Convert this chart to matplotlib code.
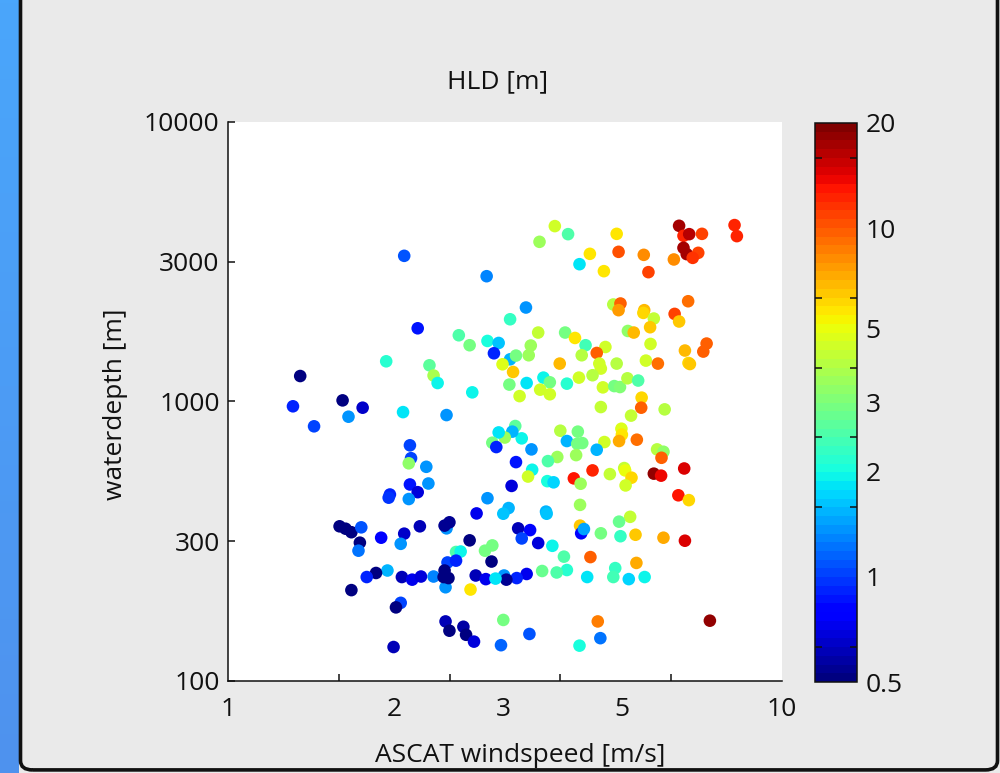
import numpy as np
import matplotlib
matplotlib.use("Agg")
import matplotlib.pyplot as plt
from matplotlib.colors import LogNorm, LinearSegmentedColormap
from matplotlib.ticker import FixedLocator, NullFormatter, FixedFormatter
from matplotlib.patches import FancyBboxPatch

plt.rcParams['font.family'] = ['Open Sans', 'DejaVu Sans']

# ---------------- data ----------------
windspeed = [2.08, 2.93, 2.20, 3.23, 2.61, 2.73, 2.94, 3.08, 3.02, 3.23, 3.13, 3.27, 1.93, 2.31, 2.35, 2.39, 2.76,
             1.35, 1.61, 3.22, 3.89, 3.65, 4.11, 5.03, 4.50, 4.31, 4.77, 5.07, 5.63, 5.74, 6.38, 6.52, 6.64, 6.80,
             7.17, 6.64, 6.73, 7.06, 6.90, 8.21, 8.29, 3.45, 4.96, 5.11, 5.07, 5.64, 5.62, 5.87, 5.78, 5.27, 5.40,
             6.40, 6.52, 6.77, 3.63, 4.06, 4.23, 4.42, 3.52, 3.49, 3.31, 4.80, 4.63, 4.35, 4.68, 4.71, 3.97, 5.03,
             5.79, 5.68, 5.97, 6.68, 6.78, 6.82, 7.31, 7.21, 3.71, 3.81, 3.46, 4.09, 4.30, 4.55, 3.66, 3.81, 3.36,
             4.75, 4.98, 5.10, 5.26, 5.50, 5.58, 5.57, 4.71, 5.34, 6.14, 3.98, 4.28, 5.13, 5.14, 5.08, 5.47, 4.78,
             4.09, 4.27, 4.36, 4.25, 4.63, 3.93, 3.78, 3.53, 3.39, 3.30, 3.26, 3.16, 3.31, 3.54, 3.48, 3.25, 3.77,
             3.87, 4.21, 4.33, 4.55, 4.89, 5.19, 5.21, 5.35, 5.22, 5.87, 6.05, 5.95, 6.11, 6.06, 6.66, 6.50, 6.79,
             6.68, 6.11, 5.44, 5.32, 5.08, 5.11, 4.71, 4.32, 4.32, 4.34, 4.39, 4.51, 4.04, 3.85, 4.09, 3.92, 3.69,
             4.45, 5.00, 4.96, 5.29, 5.65, 5.46, 3.75, 3.76, 3.21, 3.14, 3.34, 3.51, 3.39, 3.63, 3.46, 3.32, 3.15,
             3.18, 4.65, 7.41, 3.14, 3.50, 4.70, 4.31, 3.11, 1.31, 1.43, 1.65, 1.75, 2.07, 2.48, 2.13, 2.14, 2.12,
             2.28, 2.30, 2.13, 2.20, 1.96, 1.95, 2.12, 2.94, 2.81, 3.08, 3.00, 3.05, 1.59, 1.63, 1.67, 1.74, 1.73,
             1.72, 1.89, 2.08, 2.05, 2.22, 2.48, 2.46, 2.51, 2.73, 2.58, 2.63, 2.91, 3.00, 2.99, 2.49, 2.58, 1.94,
             1.85, 1.78, 2.06, 2.15, 2.23, 2.35, 2.47, 2.45, 2.46, 2.50, 2.80, 2.92, 3.04, 2.74, 1.67, 2.05, 2.01,
             2.47, 2.51, 2.66, 2.69, 2.78, 1.99]

waterdepth = [3318, 2805, 1826, 1967, 1724, 1588, 1645, 1618, 1486, 1414, 1357, 1274, 1391, 1346, 1237, 1163, 1077,
              1232, 1008, 1148, 4239, 3724, 3967, 3977, 3373, 3097, 2924, 3429, 3345, 2900, 3220, 4250, 3913, 3967,
              3977, 3544, 3365, 3401, 3263, 4275, 3903, 2167, 2222, 2240, 2120, 2120, 2073, 1979, 1842, 1786, 1763,
              2056, 1931, 2282, 1763, 1763, 1686, 1588, 1584, 1462, 1458, 1565, 1490, 1462, 1365, 1310, 1365, 1365,
              1605, 1399, 1365, 1520, 1372, 1360, 1610, 1507, 1216, 1170, 1163, 1157, 1216, 1240, 1101, 1060, 1044,
              1122, 1134, 1125, 1209, 1187, 1031, 949, 954, 889, 936, 785, 779, 798, 760, 721, 729, 715,
              721, 705, 709, 642, 671, 632, 611, 673, 737, 816, 779, 742, 606, 569, 538, 498, 518,
              513, 530, 507, 566, 549, 577, 566, 533, 500, 551, 542, 673, 660, 628, 575, 461, 443,
              317, 325, 333, 386, 371, 329, 337, 426, 359, 337, 349, 277, 278, 304, 249, 244, 247,
              235, 253, 235, 231, 235, 264, 403, 396, 415, 396, 351, 346, 323, 311, 241, 233, 238,
              230, 163, 164, 165, 147, 142, 133.5, 134, 960, 814, 881, 949, 915, 893, 696, 626, 600,
              583, 508, 504, 473, 464, 452, 447, 450, 397, 774, 711, 686, 357, 350, 340, 354, 312,
              292, 325, 336, 309, 357, 351, 359, 369, 318, 289, 290, 292, 305, 267, 265, 269, 248,
              243, 235, 235, 230, 236, 236, 216, 235, 248, 233, 238, 231, 232, 212, 211, 190, 183,
              163, 151, 156, 146, 138, 132]

hld = [1.1, 1.3, 0.85, 2.3, 2.6, 3.0, 2.0, 1.6, 0.9, 1.5, 4.8, 6.5, 2.2, 2.7, 3.9, 1.9, 1.9,
       0.5, 0.5, 3.0, 4.5, 3.6, 2.6, 5.8, 5.8, 1.8, 5.8, 10.5, 8, 11, 8, 17, 12.5, 16,
       11, 17.5, 17, 11, 11.5, 12, 12, 1.35, 4.0, 10, 7.7, 7, 6.2, 4.3, 6.5, 3.4, 6.8,
       11, 6.5, 9, 4.3, 3.0, 5.8, 2.4, 3.6, 3.6, 3.0, 4.6, 9.5, 4.0, 4.5, 4.5, 6.8, 4.0,
       4.6, 4.6, 9, 6.8, 6, 6.5, 10, 10, 1.9, 3.0, 1.8, 2.2, 4.5, 4.0, 4.6, 4.6, 4.5,
       4.5, 3.0, 3.3, 4.0, 2.6, 6, 10, 4.3, 4.3, 4.0, 4.0, 3.0, 5, 5.8, 7.3, 9, 4.6,
       1.5, 3.0, 3.0, 3.6, 1.5, 3.6, 2.6, 1.35, 1.9, 2.8, 1.5, 3.6, 0.85, 1.9, 4.6, 0.7, 2.0,
       1.7, 13, 3.6, 12.5, 4.3, 4.3, 5.3, 6.3, 4.6, 18.5, 13.5, 4.0, 3.4, 10, 14.5, 13, 6.2,
       14.5, 7.3, 6.5, 4.3, 2.9, 2.3, 3.0, 3.6, 6.5, 0.8, 1.45, 9.5, 2.6, 1.9, 2.2, 2.6, 2.9,
       1.8, 2.3, 2.4, 1.7, 1.9, 7.3, 1.5, 1.65, 1.5, 1.6, 0.6, 0.8, 1.0, 0.67, 0.72, 0.9, 1.35,
       0.56, 8.5, 18, 3.0, 1.1, 1.25, 2.0, 1.15, 0.9, 1.0, 1.35, 0.63, 1.8, 1.35, 1.0, 1.0, 3.5,
       1.35, 1.35, 0.85, 0.7, 0.9, 0.95, 1.35, 1.35, 0.72, 1.8, 3.0, 0.9, 0.5, 0.5, 0.5, 1.1, 0.52,
       1.25, 0.75, 0.63, 1.35, 0.6, 1.35, 0.55, 0.55, 0.5, 2.6, 1.9, 3.0, 3.0, 0.52, 1.0, 0.9, 1.5,
       0.5, 0.9, 0.6, 0.72, 0.7, 1.3, 1.35, 0.5, 0.5, 0.5, 0.6, 0.72, 1.8, 5.8, 0.5, 1.0, 0.5,
       0.6, 0.5, 0.58, 0.5, 0.7, 0.6]

x_ticklabels = ['1', '2', '3', '5', '10']
x_ticklabel_pos = [1, 2, 3.14, 5.14, 10]
y_ticklabels = ['100', '300', '1000', '3000', '10000']
y_tick_pos = [100, 316.2, 1000, 3162, 10000]
cb_ticklabels = ['0.5', '1', '2', '3', '5', '10', '20']
cb_ticklabel_pos = [0.5, 1, 2, 3.16, 5.14, 10, 20]
x_minor_ticks = [1.585, 2.512, 3.981, 6.310]
cb_minor_ticks = [0.631, 1.0, 1.585, 2.512, 3.981, 6.310, 10.0, 15.85]

# ---------------- figure ----------------
BG = '#eaeaea'
fig = plt.figure(figsize=(10, 7.73), dpi=100, facecolor=BG)

# slide decorations: blue strip and dark frame
strip = fig.add_axes([0, 0, 0.019, 1])
grad = np.linspace(0, 1, 256).reshape(-1, 1)
bcmap = LinearSegmentedColormap.from_list('b', ['#4aa6fb', '#4c9cf5', '#4f92ee'])
strip.imshow(grad, aspect='auto', cmap=bcmap, extent=[0, 1, 0, 1], origin='upper')
strip.set_axis_off()
frame = FancyBboxPatch((0.0205, 0.004), 0.977, 1.2,
                       boxstyle='round,pad=0,rounding_size=0.012',
                       transform=fig.transFigure, facecolor='none',
                       edgecolor='#111111', linewidth=2.6, clip_on=False)
fig.patches.append(frame)

ax = fig.add_axes([0.228, 0.1194, 0.554, 0.7228])
ax.set_facecolor('white')
ax.set_xscale('log')
ax.set_yscale('log')

cmap = plt.get_cmap('jet', 64)
norm = LogNorm(vmin=0.5, vmax=20)
sc = ax.scatter(windspeed, waterdepth, c=hld, cmap=cmap, norm=norm, s=82,
                linewidths=0, zorder=3)

ax.set_xlim(1, 10)
ax.set_ylim(100, 10000)

for s in ['top', 'right']:
    ax.spines[s].set_visible(False)
for s in ['left', 'bottom']:
    ax.spines[s].set_linewidth(1.1)
    ax.spines[s].set_color('#111111')

FS = 19
TC = '#111111'
ax.xaxis.set_major_locator(FixedLocator(x_ticklabel_pos))
ax.xaxis.set_major_formatter(FixedFormatter(x_ticklabels))
ax.xaxis.set_minor_locator(FixedLocator(x_minor_ticks))
ax.xaxis.set_minor_formatter(NullFormatter())
ax.tick_params(axis='x', which='major', length=0, pad=12, labelsize=FS, labelcolor=TC)
ax.tick_params(axis='x', which='minor', direction='in', length=5, width=1.1, color=TC)

ax.yaxis.set_major_locator(FixedLocator(y_tick_pos))
ax.yaxis.set_major_formatter(FixedFormatter(y_ticklabels))
ax.yaxis.set_minor_locator(FixedLocator([]))
ax.tick_params(axis='y', which='major', direction='in', length=5, width=1.1, pad=6,
               labelsize=FS, color=TC, labelcolor=TC)

fig.text(0.498, 1 - 82 / 773, 'HLD [m]', ha='center', va='center', fontsize=FS, color=TC)
fig.text(0.5205, 1 - 755 / 773, 'ASCAT windspeed [m/s]', ha='center', va='center',
         fontsize=FS, color=TC)
fig.text(0.116, 1 - 404 / 773, 'waterdepth [m]', ha='center', va='center', fontsize=FS,
         rotation=90, color=TC)

# colorbar
cax = fig.add_axes([0.815, 0.1177, 0.042, 0.7232])
cb = fig.colorbar(sc, cax=cax)
cb.outline.set_linewidth(1.1)
cb.outline.set_edgecolor(TC)
cax.yaxis.set_major_locator(FixedLocator(cb_ticklabel_pos))
cax.yaxis.set_major_formatter(FixedFormatter(cb_ticklabels))
cax.yaxis.set_minor_locator(FixedLocator(cb_minor_ticks))
cax.yaxis.set_minor_formatter(NullFormatter())
cax.tick_params(which='major', length=0, pad=6, labelsize=FS, labelcolor=TC)
cax.tick_params(which='minor', direction='in', length=5, width=1.1, left=True, right=True,
                color=TC)

fig.savefig('out.png', dpi=100, facecolor=BG)
